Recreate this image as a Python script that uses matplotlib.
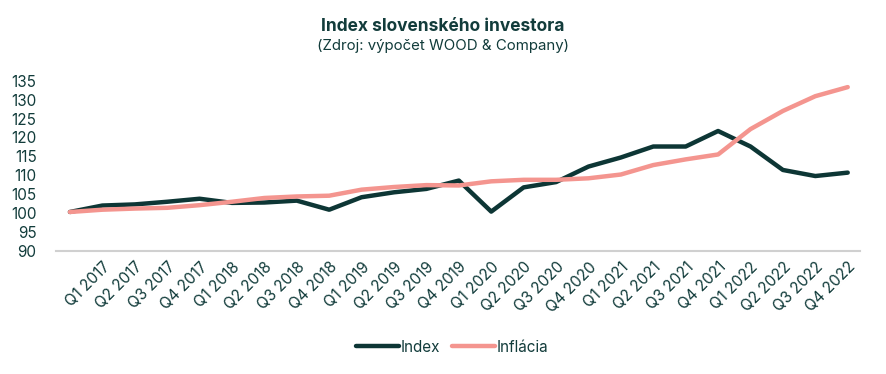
import matplotlib.pyplot as plt

# 25 bodov, prvy (zaklad 100) je bez popisu
stvrtroky = ["", "Q1 2017", "Q2 2017", "Q3 2017", "Q4 2017", "Q1 2018", "Q2 2018",
             "Q3 2018", "Q4 2018", "Q1 2019", "Q2 2019", "Q3 2019", "Q4 2019",
             "Q1 2020", "Q2 2020", "Q3 2020", "Q4 2020", "Q1 2021", "Q2 2021",
             "Q3 2021", "Q4 2021", "Q1 2022", "Q2 2022", "Q3 2022", "Q4 2022"]
index_hodnoty = [100.3, 102.0, 102.3, 103.0, 103.8, 102.7, 102.8, 103.3, 100.9,
                 104.2, 105.5, 106.4, 108.6, 100.4, 106.8, 108.2, 112.3, 114.7,
                 117.6, 117.6, 121.7, 117.6, 111.4, 109.8, 110.7]
inflacia = [100.3, 100.9, 101.2, 101.4, 102.1, 103.0, 104.0, 104.4, 104.6,
            106.2, 106.9, 107.4, 107.3, 108.4, 108.8, 108.8, 109.2, 110.2,
            112.7, 114.2, 115.5, 122.2, 127.0, 130.9, 133.3]

tmava = "#0d3635"
ruzova = "#f4958f"
text_farba = "#123c3b"
plt.rcParams["font.family"] = ["Inter", "DejaVu Sans"]

fig = plt.figure(figsize=(8.86, 3.74), dpi=100)
ax = fig.add_axes([0.0632, 0.329, 0.9075, 0.4553])

x = list(range(len(stvrtroky)))
ax.plot(x, index_hodnoty, color=tmava, lw=3.2, label="Index", solid_capstyle="round")
ax.plot(x, inflacia, color=ruzova, lw=3.2, label="Inflácia", solid_capstyle="round")

ax.set_ylim(90, 135)
ax.set_yticks(range(90, 136, 5))
ax.set_xlim(-0.43, 24.38)
ax.set_xticks(x)
ax.set_xticklabels(stvrtroky, rotation=45, ha="right", rotation_mode="anchor")
ax.tick_params(axis="both", length=0, colors=text_farba, labelsize=11)
ax.tick_params(axis="x", pad=6)
ax.tick_params(axis="y", pad=14)

for s in ["top", "right", "left"]:
    ax.spines[s].set_visible(False)
ax.spines["bottom"].set_color("#d0d0d0")
ax.spines["bottom"].set_linewidth(1.5)

fig.text(0.5, 0.928, "Index slovenského investora", ha="center", va="center",
         fontsize=12.5, fontweight="bold", color=text_farba)
fig.text(0.5, 0.877, "(Zdroj: výpočet WOOD & Company)", ha="center", va="center",
         fontsize=10.8, color=text_farba)

fig.legend(loc="center", bbox_to_anchor=(0.51, 0.072), ncol=2, frameon=False,
           fontsize=11, handlelength=2.8, handletextpad=0.1, columnspacing=0.8,
           labelcolor=text_farba)

fig.savefig("out.png", dpi=100)
